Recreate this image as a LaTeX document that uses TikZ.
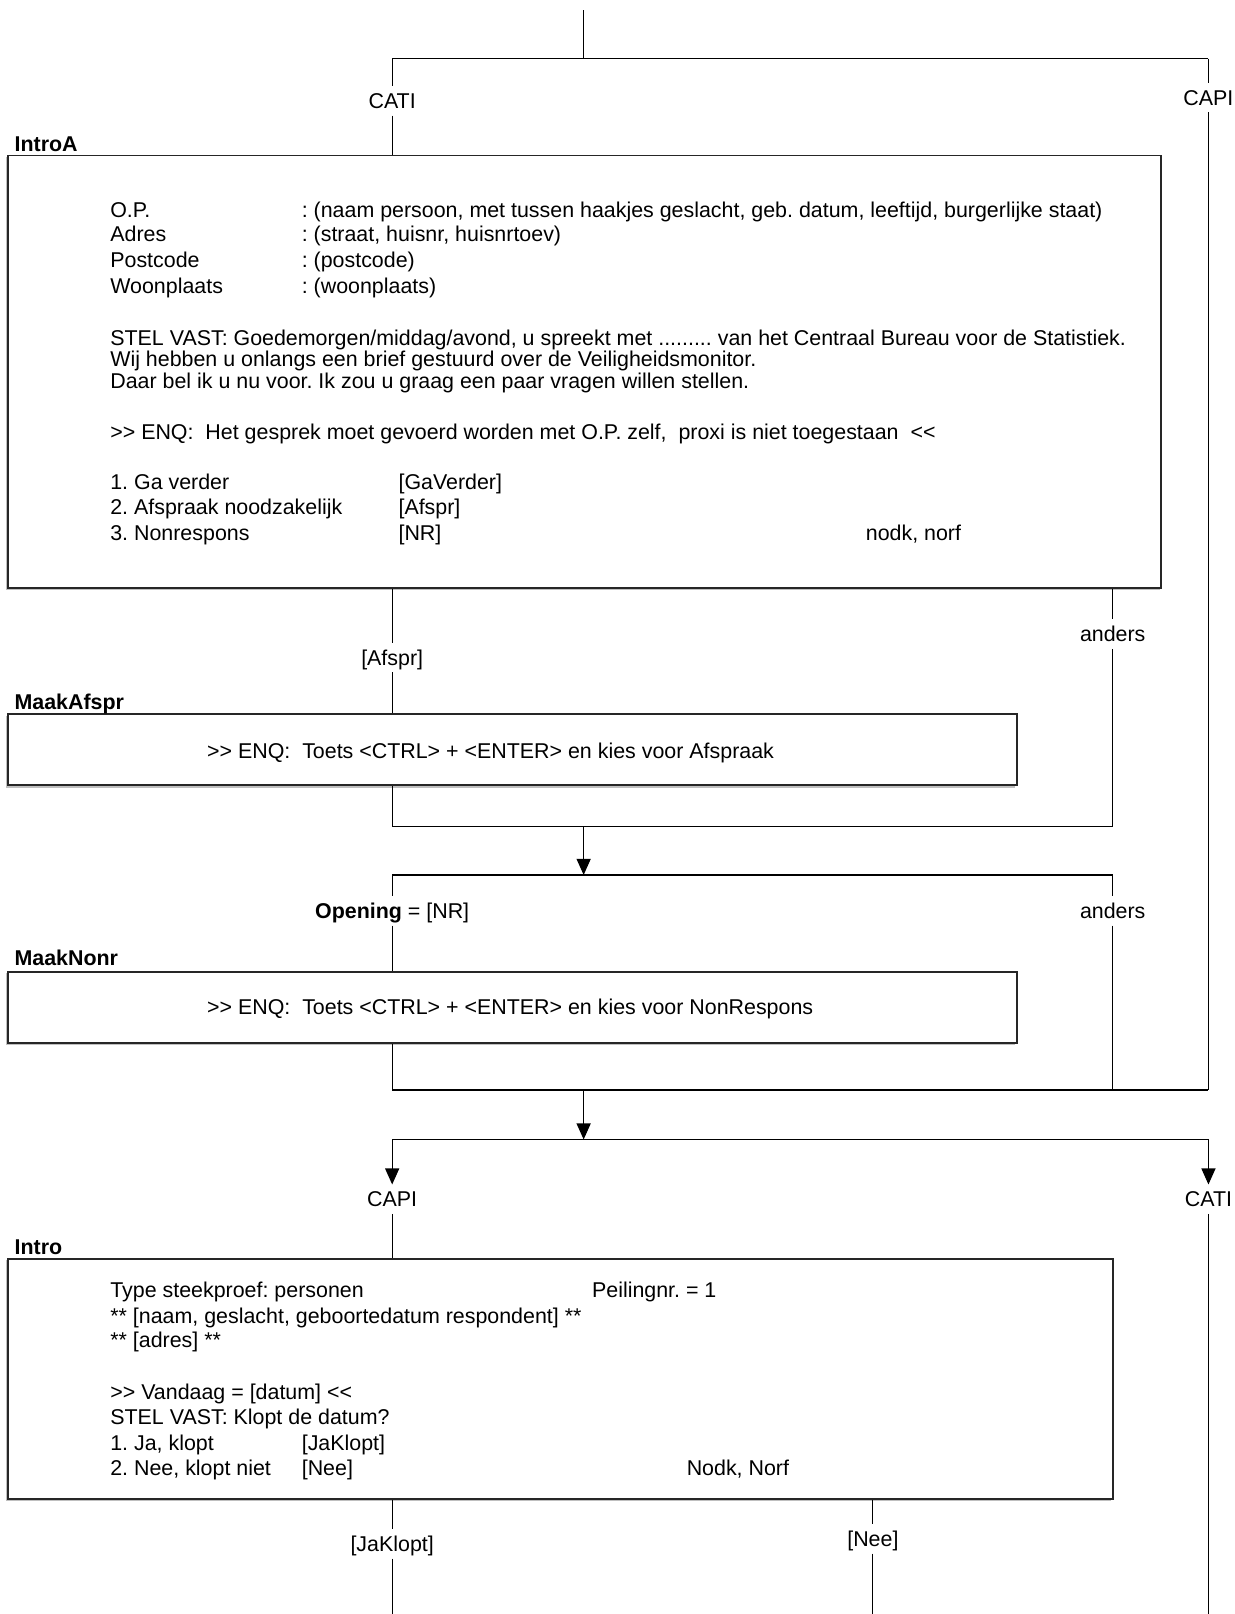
\documentclass[tikz,border=0pt]{standalone}
\usepackage{fontspec}
\newfontfamily\af{Liberation Sans}
\usetikzlibrary{arrows.meta,fit}
\frenchspacing
\begin{document}
\begin{tikzpicture}[x=1.0292pt,y=-1.0292pt,
  conn/.style={line width=1.2pt, draw=black},
  arr/.style={conn, -{Triangle[length=16pt,width=14pt]}},
  box/.style={draw=black!85, line width=1.8pt, fill=white, inner sep=0pt},
  shadowline/.style={draw=black!25, line width=1.6pt},
  txt/.style={anchor=base west, inner sep=0pt, font=\af\fontsize{21.4}{25}\selectfont},
  ttl/.style={anchor=base west, inner sep=0pt, font=\af\bfseries\fontsize{21.4}{25}\selectfont},
  lbl/.style={inner xsep=2pt, inner ysep=7pt, text height=15pt, text depth=0pt, font=\af\fontsize{21.4}{25}\selectfont},
  thick seg/.style={line width=1.9pt, draw=black},
]
\useasboundingbox (0,0) rectangle (1199,1568);

% ---------- junction coordinates ----------
\coordinate (top) at (567,10);
\coordinate (s1c) at (567,57);
\coordinate (s1l) at (381,57);
\coordinate (s1r) at (1174,57);
\coordinate (m1l) at (381,803);
\coordinate (m1c) at (567,803);
\coordinate (m1r) at (1081,803);
\coordinate (s2l) at (381,850);
\coordinate (s2c) at (567,850);
\coordinate (s2r) at (1081,850);
\coordinate (m2l) at (381,1059);
\coordinate (m2c) at (567,1059);
\coordinate (m2m) at (1081,1059);
\coordinate (m2r) at (1174,1059);
\coordinate (s3l) at (381,1107);
\coordinate (s3c) at (567,1107);
\coordinate (s3r) at (1174,1107);
\coordinate (endL) at (381,1568);
\coordinate (endM) at (848,1568);
\coordinate (endR) at (1174,1568);

% ---------- boxes ----------
\draw[shadowline] ([xshift=-1.6pt,yshift=-1.6pt]8,151) -- ([xshift=-1.6pt,yshift=-1.6pt]8,571) -- ([xshift=-1.6pt,yshift=-1.6pt]1128,571);
\node[box, fit={(8,151) (1128,571)}] (introA) {};
\draw[shadowline] ([xshift=-1.6pt,yshift=-1.6pt]8,694) -- ([xshift=-1.6pt,yshift=-1.6pt]8,763) -- ([xshift=-1.6pt,yshift=-1.6pt]988,763);
\node[box, fit={(8,694) (988,763)}] (maakAfspr) {};
\draw[shadowline] ([xshift=-1.6pt,yshift=-1.6pt]8,944) -- ([xshift=-1.6pt,yshift=-1.6pt]8,1013) -- ([xshift=-1.6pt,yshift=-1.6pt]988,1013);
\node[box, fit={(8,944) (988,1013)}] (maakNonr) {};
\draw[shadowline] ([xshift=-1.6pt,yshift=-1.6pt]8,1223) -- ([xshift=-1.6pt,yshift=-1.6pt]8,1456) -- ([xshift=-1.6pt,yshift=-1.6pt]1081,1456);
\node[box, fit={(8,1223) (1081,1456)}] (intro) {};

% ---------- titles ----------
\node[ttl] (tIntroA) at (14,147.4) {IntroA};
\node[ttl] (tMaakAfspr) at (14,689.4) {MaakAfspr};
\node[ttl] (tMaakNonr) at (14,938.4) {MaakNonr};
\node[ttl] (tIntro) at (14,1218.4) {Intro};

% ---------- IntroA text ----------
\node[txt] (a1) at (107,211.4) {O.P.};
\node[txt] (a1b) at (293,211.4) {: (naam persoon, met tussen haakjes geslacht, geb. datum, leeftijd, burgerlijke staat)};
\node[txt] (a2) at (107,234.9) {Adres};
\node[txt] (a2b) at (293,234.9) {: (straat, huisnr, huisnrtoev)};
\node[txt] (a3) at (107,259.7) {Postcode};
\node[txt] (a3b) at (293,259.7) {: (postcode)};
\node[txt] (a4) at (107,284.9) {Woonplaats};
\node[txt] (a4b) at (293,284.9) {: (woonplaats)};
\node[txt] (a5) at (107,335.4) {STEL VAST: Goedemorgen/middag/avond, u spreekt met ......... van het Centraal Bureau voor de Statistiek.};
\node[txt] (a6) at (107,355.9) {Wij hebben u onlangs een brief gestuurd over de Veiligheidsmonitor.};
\node[txt] (a7) at (107,377.4) {Daar bel ik u nu voor. Ik zou u graag een paar vragen willen stellen.};
\node[txt] (a8) at (107,426.6) {>> ENQ:\ \ Het gesprek moet gevoerd worden met O.P. zelf,\ \ proxi is niet toegestaan\ \ <<};
\node[txt] (a9) at (107,475.4) {1. Ga verder};
\node[txt] (a9b) at (387,475.4) {[GaVerder]};
\node[txt] (a10) at (107,500.1) {2. Afspraak noodzakelijk};
\node[txt] (a10b) at (387,500.1) {[Afspr]};
\node[txt] (a11) at (107,525.4) {3. Nonrespons};
\node[txt] (a11b) at (387,525.4) {[NR]};
\node[txt] (a11c) at (841,525.4) {nodk, norf};

% ---------- MaakAfspr / MaakNonr text ----------
\node[txt] (b1) at (201,736.4) {>> ENQ:\ \ Toets <CTRL> + <ENTER> en kies voor Afspraak};
\node[txt] (c1) at (201,985.4) {>> ENQ:\ \ Toets <CTRL> + <ENTER> en kies voor NonRespons};

% ---------- Intro text ----------
\node[txt] (d1) at (107,1260.4) {Type steekproef: personen};
\node[txt] (d1b) at (575,1260.4) {Peilingnr. = 1};
\node[txt] (d2) at (107,1285.4) {** [naam, geslacht, geboortedatum respondent] **};
\node[txt] (d3) at (107,1309.4) {** [adres] **};
\node[txt] (d4) at (107,1359.9) {>> Vandaag = [datum] <<};
\node[txt] (d5) at (107,1384) {STEL VAST: Klopt de datum?};
\node[txt] (d6) at (107,1408.9) {1. Ja, klopt};
\node[txt] (d6b) at (293,1408.9) {[JaKlopt]};
\node[txt] (d7) at (107,1433.6) {2. Nee, klopt niet};
\node[txt] (d7b) at (293,1433.6) {[Nee]};
\node[txt] (d7c) at (667,1433.6) {Nodk, Norf};

% ---------- connector labels ----------
\node[lbl] (cati1) at (381,98) {CATI};
\node[lbl] (capi1) at (1174,95) {CAPI};
\node[lbl] (afspr) at (381,639) {[Afspr]};
\node[lbl] (anders1) at (1081,616) {anders};
\node[lbl] (opening) at (381,885) {\textbf{Opening} = [NR]};
\node[lbl] (anders2) at (1081,885) {anders};
\node[lbl] (capi2) at (381,1165) {CAPI};
\node[lbl] (cati2) at (1174,1165) {CATI};
\node[lbl] (jaklopt) at (381,1500) {[JaKlopt]};
\node[lbl] (nee) at (848,1495) {[Nee]};

% ---------- connectors ----------
\draw[conn] (top) -- (s1c);
\draw[conn] (s1l) -- (s1r);
\draw[conn] (s1l) -- (cati1.north);
\draw[conn] (cati1.south) -- (introA.north -| cati1);
\draw[conn] (s1r) -- (capi1.north);
\draw[conn] (capi1.south) -- (m2r);

\draw[conn] (introA.south -| afspr) -- (afspr.north);
\draw[conn] (afspr.south) -- (maakAfspr.north -| afspr);
\draw[conn] (maakAfspr.south -| m1l) -- (m1l) -- (m1r);
\draw[conn] (introA.south -| anders1) -- (anders1.north);
\draw[conn] (anders1.south) -- (m1r);
\draw[arr] (m1c) -- (s2c);

\draw[conn] (s2l) -- (s2r);
\draw[conn] (s2l) -- (opening.north);
\draw[conn] (opening.south) -- (maakNonr.north -| opening);
\draw[conn] (maakNonr.south -| m2l) -- (m2l) -- (m2r);
\draw[conn] (s2r) -- (anders2.north);
\draw[conn] (anders2.south) -- (m2m);
\draw[thick seg] (1036,1059) -- (m2m);
\draw[arr] (m2c) -- (s3c);

\draw[conn] (s3l) -- (s3r);
\draw[thick seg] (545,1107) -- (613,1107);
\draw[arr] (s3l) -- (capi2.north);
\draw[arr] (s3r) -- (cati2.north);
\draw[conn] (capi2.south) -- (intro.north -| capi2);
\draw[conn] (cati2.south) -- (endR);

\draw[conn] (intro.south -| jaklopt) -- (jaklopt.north);
\draw[conn] (jaklopt.south) -- (endL);
\draw[conn] (intro.south -| nee) -- (nee.north);
\draw[conn] (nee.south) -- (endM);
\end{tikzpicture}
\end{document}
